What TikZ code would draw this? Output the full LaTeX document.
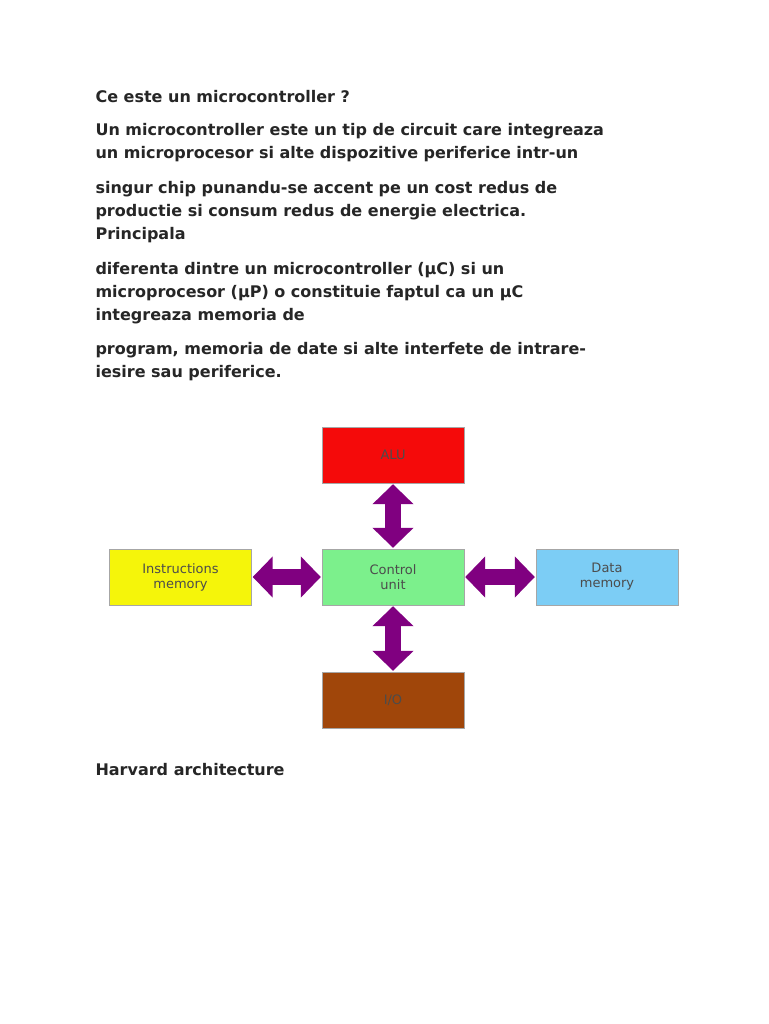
\documentclass[tikz,border=0pt]{standalone}
\usepackage{fontspec}
\setmainfont{DejaVu Sans}
\usetikzlibrary{arrows.meta}

\definecolor{aluRed}{HTML}{F50A0A}
\definecolor{instrYellow}{HTML}{F5F50A}
\definecolor{ctrlGreen}{HTML}{7CF08C}
\definecolor{dataBlue}{HTML}{7CCDF5}
\definecolor{ioBrown}{HTML}{A0460A}
\definecolor{busPurple}{HTML}{800080}

\tikzset{
  txt/.style={anchor=base west, font=\bfseries\fontsize{16}{19}\selectfont, text=black!85},
  blk/.style={draw=black!35, minimum width=142pt, minimum height=56pt, inner sep=0pt,
    align=center, font=\fontsize{13}{15}\selectfont, text=black!70},
  bus/.style={draw=busPurple, line width=16pt, {Triangle[length=20pt,width=40pt]}-{Triangle[length=20pt,width=40pt]}, shorten <=1pt, shorten >=1pt}
}

\begin{document}
\begin{tikzpicture}[x=1pt, y=-1pt]
\useasboundingbox[fill=white] (0,0) rectangle (768,1024);

% page text
\node[txt] (l1) at (92,103) {Ce este un microcontroller ?};
\node[txt] (l2) at (92,136) {Un microcontroller este un tip de circuit care integreaza};
\node[txt] (l3) at (92,159) {un microprocesor si alte dispozitive periferice intr-un};
\node[txt] (l4) at (92,194) {singur chip punandu-se accent pe un cost redus de};
\node[txt] (l5) at (92,217) {productie si consum redus de energie electrica.};
\node[txt] (l6) at (92,240) {Principala};
\node[txt] (l7) at (92,274) {diferenta dintre un microcontroller (µC) si un};
\node[txt] (l8) at (92,297) {microprocesor (µP) o constituie faptul ca un µC};
\node[txt] (l9) at (92,320) {integreaza memoria de};
\node[txt] (l10) at (92,354) {program, memoria de date si alte interfete de intrare-};
\node[txt] (l11) at (92,377) {iesire sau periferice.};
\node[txt] (cap) at (92,775) {Harvard architecture};

% blocks
\node[blk, fill=aluRed] (alu) at (393,455) {ALU};
\node[blk, fill=ctrlGreen] (ctrl) at (393,577) {Control\\unit};
\node[blk, fill=instrYellow] (imem) at (180.5,577) {Instructions\\memory};
\node[blk, fill=dataBlue] (dmem) at (607,577) {Data\\memory};
\node[blk, fill=ioBrown] (io) at (393,700) {I/O};

% buses
\draw[bus] (alu) -- (ctrl);
\draw[bus] (ctrl) -- (io);
\draw[bus] (imem) -- (ctrl);
\draw[bus] (ctrl) -- (dmem);

\end{tikzpicture}
\end{document}
